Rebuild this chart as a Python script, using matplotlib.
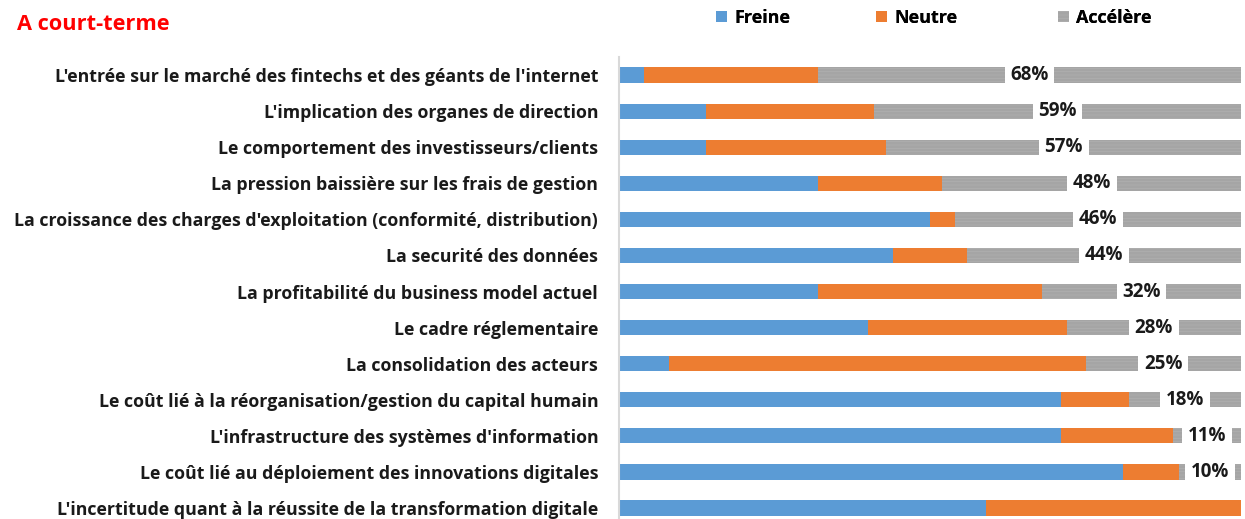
import numpy as np
import matplotlib.pyplot as plt

categories = [
    "L'entrée sur le marché des fintechs et des géants de l'internet",
    "L'implication des organes de direction",
    "Le comportement des investisseurs/clients",
    "La pression baissière sur les frais de gestion",
    "La croissance des charges d'exploitation (conformité, distribution)",
    "La securité des données",
    "La profitabilité du business model actuel",
    "Le cadre réglementaire",
    "La consolidation des acteurs",
    "Le coût lié à la réorganisation/gestion du capital humain",
    "L'infrastructure des systèmes d'information",
    "Le coût lié au déploiement des innovations digitales",
    "L'incertitude quant à la réussite de la transformation digitale",
]
freine = [4, 14, 14, 32, 50, 44, 32, 40, 8, 71, 71, 81, 59]
neutre = [28, 27, 29, 20, 4, 12, 36, 32, 67, 11, 18, 9, 41]
accelere = [68, 59, 57, 48, 46, 44, 32, 28, 25, 18, 11, 10, 0]
series_names = ["Freine", "Neutre", "Accélère"]
colors = ["#5B9BD5", "#ED7D31", "#A5A5A5"]

plt.rcParams['font.family'] = ['Open Sans', 'DejaVu Sans']
plt.rcParams['hatch.linewidth'] = 0.4

fig = plt.figure(figsize=(12.45, 5.19), dpi=100)
ax = fig.add_axes([619 / 1245, 0, 622 / 1245, 462 / 519])

y = np.arange(len(categories))
f = np.array(freine)
n = np.array(neutre)
a = np.array(accelere)
h = 0.42
ax.barh(y, f, height=h, color=colors[0], label=series_names[0])
ax.barh(y, n, left=f, height=h, color=colors[1], label=series_names[1])
ax.barh(y, a, left=f + n, height=h, color=colors[2], label=series_names[2],
        hatch='-----', edgecolor='#b2b2b2', linewidth=0)

for i in range(len(categories)):
    if a[i] > 0:
        ax.text(f[i] + n[i] + a[i] / 2, y[i], f"{a[i]}%", ha='center', va='center',
                fontsize=13.5, fontweight='bold', color='#1a1a1a',
                bbox=dict(boxstyle='square,pad=0.3', facecolor='white', edgecolor='none'))

ax.set_xlim(0, 100)
ax.set_ylim(12 + 11 / 36.1, -0.5)
ax.set_yticks(y)
ax.set_yticklabels(categories, fontsize=12.8, fontweight='bold', color='#1a1a1a')
ax.tick_params(axis='y', length=0, pad=15)
ax.set_xticks([])
for s in ['top', 'right', 'bottom']:
    ax.spines[s].set_visible(False)
ax.spines['left'].set_color('#d9d9d9')
ax.spines['left'].set_linewidth(1.5)

fig.text(17 / 1245, 1 - 25 / 519, "A court-terme", color='red', fontsize=15.7,
         fontweight='bold', va='center', ha='left')

# legend entries placed one by one, like the spread-out Excel legend
handles, labels = ax.get_legend_handles_labels()
for hd, lb, xpx in zip(handles, labels, [716, 876, 1058]):
    leg = fig.legend([hd], [lb], loc='center left',
                     bbox_to_anchor=(xpx / 1245, 1 - 18 / 519),
                     frameon=False, borderpad=0, borderaxespad=0,
                     handlelength=0.6, handleheight=0.6, handletextpad=0.4,
                     prop={'weight': 'bold', 'size': 13})
    fig.add_artist(leg)

fig.savefig('out.png', dpi=100)
